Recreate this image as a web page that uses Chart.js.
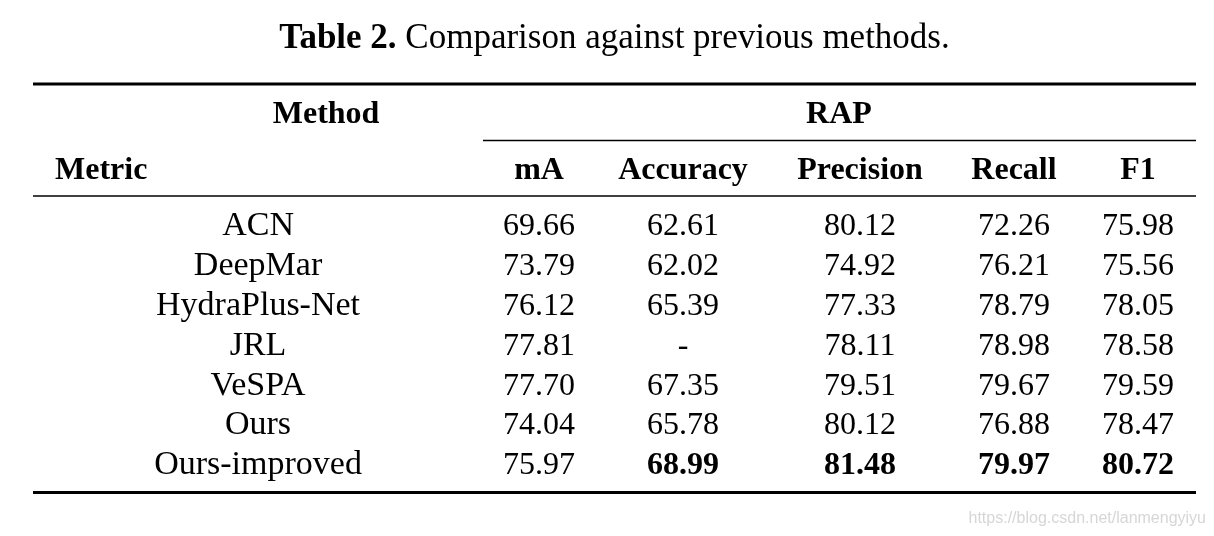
<!DOCTYPE html>
<html><head><meta charset="utf-8">
<script src="https://cdn.jsdelivr.net/npm/chart.js@4.4.1/dist/chart.umd.min.js"></script>
<style>html,body{margin:0;padding:0;background:#fff;}canvas{display:block;}</style>
</head><body>
<canvas id="c" width="1214" height="536"></canvas>
<script>
// ---- table content ----
const titleBold = 'Table 2.';
const titleRest = ' Comparison against previous methods.';
const groupHeader = 'Method';
const datasetHeader = 'RAP';
const rowHeader = 'Metric';
const metrics = ['mA', 'Accuracy', 'Precision', 'Recall', 'F1'];
const methods = ['ACN', 'DeepMar', 'HydraPlus-Net', 'JRL', 'VeSPA', 'Ours', 'Ours-improved'];
const mA        = [69.66, 73.79, 76.12, 77.81, 77.70, 74.04, 75.97];
const accuracy  = [62.61, 62.02, 65.39, null,  67.35, 65.78, 68.99];
const precision = [80.12, 74.92, 77.33, 78.11, 79.51, 80.12, 81.48];
const recall    = [72.26, 76.21, 78.79, 78.98, 79.67, 76.88, 79.97];
const f1        = [75.98, 75.56, 78.05, 78.58, 79.59, 78.47, 80.72];
const boldRow = 'Ours-improved';
const boldMetrics = ['Accuracy', 'Precision', 'Recall', 'F1'];
const watermark = 'https://blog.csdn.net/lanmengyiyu';

// ---- layout (in scale units: x = fraction of table width, y = row units) ----
const columns = [mA, accuracy, precision, recall, f1];
const layout = {
  methodX: 0.1935, metricLeftX: 0.0189,
  colX: [0.4351, 0.5589, 0.7111, 0.8435, 0.9501],
  groupX: 0.2520, datasetX: 0.6930, subRuleStart: 0.3869,
  titleY: -0.902, groupY: 0.977, subRuleY: 1.416, headerY: 2.381, headRuleY: 2.807,
  firstRowY: 3.784, bottomY: 10.24, watermarkY: 11.0
};
const SERIF = '"Liberation Serif", "Times New Roman", serif';

const tablePlugin = {
  id: 'tablePlugin',
  afterDraw(chart) {
    const ctx = chart.ctx, xs = chart.scales.x, ys = chart.scales.y;
    const X = v => xs.getPixelForValue(v), Y = v => ys.getPixelForValue(v);
    ctx.save();
    ctx.fillStyle = '#000';
    ctx.strokeStyle = '#000';
    ctx.textBaseline = 'alphabetic';

    // title
    ctx.font = 'bold 35px ' + SERIF;
    const wb = ctx.measureText(titleBold).width;
    ctx.font = '35px ' + SERIF;
    const wr = ctx.measureText(titleRest).width;
    const tx = (X(0) + X(1)) / 2 - (wb + wr) / 2;
    ctx.textAlign = 'left';
    ctx.font = 'bold 35px ' + SERIF;
    ctx.fillText(titleBold, tx, Y(layout.titleY));
    ctx.font = '35px ' + SERIF;
    ctx.fillText(titleRest, tx + wb, Y(layout.titleY));

    // rules
    const rule = (x0, x1, y, w) => {
      ctx.lineWidth = w;
      ctx.beginPath();
      ctx.moveTo(X(x0), Y(y));
      ctx.lineTo(X(x1), Y(y));
      ctx.stroke();
    };
    rule(0, 1, 0, 3);
    rule(layout.subRuleStart, 1, layout.subRuleY, 1.3);
    rule(0, 1, layout.headRuleY, 1.3);
    rule(0, 1, layout.bottomY, 3);

    // headers
    ctx.font = 'bold 32px ' + SERIF;
    ctx.textAlign = 'center';
    ctx.fillText(groupHeader, X(layout.groupX), Y(layout.groupY));
    ctx.fillText(datasetHeader, X(layout.datasetX), Y(layout.groupY));
    metrics.forEach((m, i) => ctx.fillText(m, X(layout.colX[i]), Y(layout.headerY)));
    ctx.textAlign = 'left';
    ctx.fillText(rowHeader, X(layout.metricLeftX), Y(layout.headerY));

    // body
    ctx.textAlign = 'center';
    methods.forEach((name, r) => {
      const y = Y(layout.firstRowY + r);
      ctx.font = '34px ' + SERIF;
      ctx.fillText(name, X(layout.methodX), y);
      columns.forEach((col, c) => {
        const v = col[r];
        const bold = name === boldRow && boldMetrics.includes(metrics[c]);
        ctx.font = (bold ? 'bold ' : '') + '32px ' + SERIF;
        ctx.fillText(v === null ? '-' : v.toFixed(2), X(layout.colX[c]), y);
      });
    });

    // watermark
    ctx.font = '16px "Liberation Sans", Arial, sans-serif';
    ctx.fillStyle = '#d6d6d6';
    ctx.textAlign = 'right';
    ctx.fillText(watermark, chart.width - 8, Y(layout.watermarkY));
    ctx.restore();
  }
};

new Chart(document.getElementById('c'), {
  type: 'scatter',
  data: { datasets: [{ data: [], pointRadius: 0 }] },
  options: {
    responsive: false,
    animation: false,
    devicePixelRatio: 1,
    layout: { padding: { left: 33, right: 18, top: 84, bottom: 43.5 } },
    plugins: { legend: { display: false }, title: { display: false }, tooltip: { enabled: false } },
    scales: {
      x: { type: 'linear', min: 0, max: 1, display: false },
      y: { type: 'linear', min: 0, max: layout.bottomY, reverse: true, display: false }
    }
  },
  plugins: [tablePlugin]
});
</script>
</body></html>
